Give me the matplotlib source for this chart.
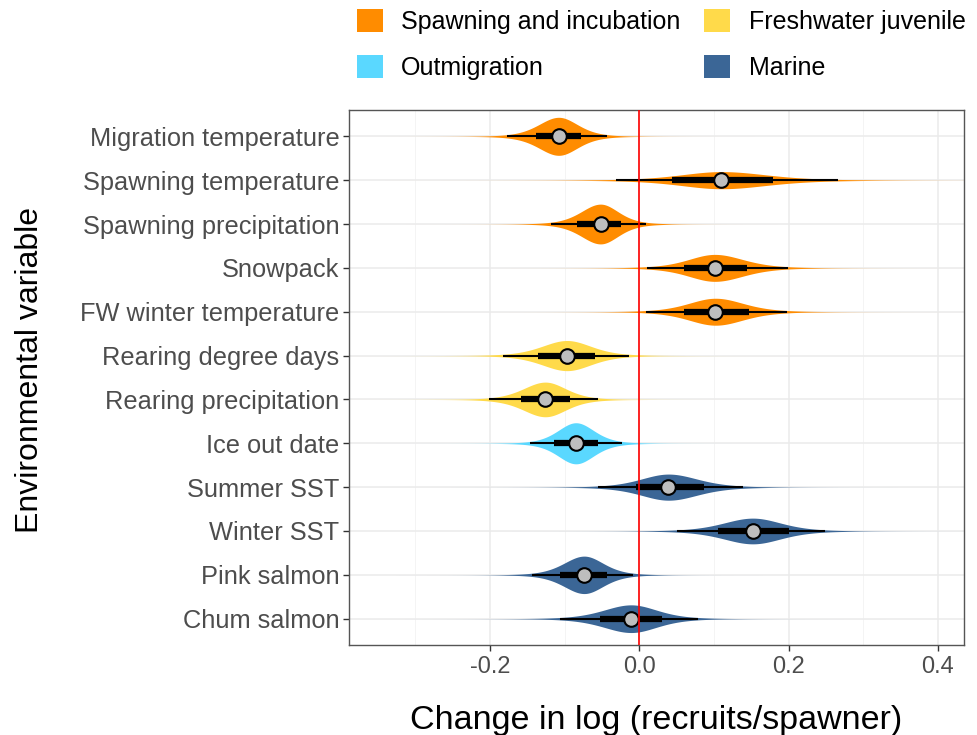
import math
import numpy as np
import matplotlib.pyplot as plt
from matplotlib.patches import Patch

plt.rcParams['font.family'] = ['Liberation Sans', 'DejaVu Sans']

# === Data ===
variables = ["Migration temperature", "Spawning temperature", "Spawning precipitation",
             "Snowpack", "FW winter temperature", "Rearing degree days",
             "Rearing precipitation", "Ice out date", "Summer SST", "Winter SST",
             "Pink salmon", "Chum salmon"]
stage = [0, 0, 0, 0, 0, 1, 1, 2, 3, 3, 3, 3]
median = [-0.108, 0.110, -0.052, 0.101, 0.102, -0.097, -0.126, -0.085, 0.039, 0.152, -0.074, -0.011]
lo66 = [-0.139, 0.044, -0.083, 0.060, 0.060, -0.136, -0.159, -0.115, -0.004, 0.105, -0.106, -0.053]
hi66 = [-0.078, 0.179, -0.024, 0.144, 0.147, -0.059, -0.093, -0.055, 0.087, 0.200, -0.043, 0.030]
lo95 = [-0.177, -0.031, -0.119, 0.010, 0.009, -0.183, -0.202, -0.147, -0.056, 0.051, -0.144, -0.106]
hi95 = [-0.043, 0.266, 0.009, 0.199, 0.198, -0.014, -0.055, -0.023, 0.139, 0.249, -0.008, 0.078]

stage_names = ["Spawning and incubation", "Freshwater juvenile", "Outmigration", "Marine"]
stage_colors = ["#FF8C00", "#FFDA4A", "#5AD8FF", "#3B6696"]

xmin, xmax = -0.389, 0.435


# split t density (df=6) built from the 95% interval on each side
def eye_density(x, m, lo, hi, df=6):
    q = 2.447
    s_lo = (m - lo) / q
    s_hi = (hi - m) / q
    s = np.where(x < m, s_lo, s_hi)
    c = math.gamma((df + 1) / 2) / (math.sqrt(df * math.pi) * math.gamma(df / 2))
    z = (x - m) / s
    return c * (1 + z ** 2 / df) ** (-(df + 1) / 2) * 2 / (s_lo + s_hi)


fig = plt.figure(figsize=(9.77, 7.35), dpi=100)
ax = fig.add_axes([349 / 977, 1 - 645 / 735, (964 - 349) / 977, (645 - 110) / 735])

n = len(variables)
ypos = np.arange(n)
xs = np.linspace(xmin, xmax, 1500)
scale = 0.031

for i in range(n):
    y = ypos[i]
    d = eye_density(xs, median[i], lo95[i], hi95[i]) * scale
    ax.fill_between(xs, y - d, y + d, color=stage_colors[stage[i]], lw=0, zorder=2)
    ax.plot([lo95[i], hi95[i]], [y, y], color="black", lw=1.5, solid_capstyle="butt", zorder=3)
    ax.plot([lo66[i], hi66[i]], [y, y], color="black", lw=4.5, solid_capstyle="butt", zorder=3)
    ax.plot(median[i], y, "o", ms=10.5, mfc="#BEBEBE", mec="black", mew=1.5, zorder=4)

ax.axvline(0, color="#FF0000", lw=1.2, zorder=5)

ax.set_xlim(xmin, xmax)
ax.set_ylim(n - 1 + 0.6, -0.6)
ax.set_yticks(ypos)
ax.set_yticklabels(variables)
ax.set_xticks([-0.2, 0.0, 0.2, 0.4])
ax.set_xticklabels(["-0.2", "0.0", "0.2", "0.4"])
ax.set_xticks([-0.3, -0.1, 0.1, 0.3], minor=True)

ax.grid(True, which="major", color="#EBEBEB", lw=1.1, zorder=0)
ax.grid(True, which="minor", axis="x", color="#F2F2F2", lw=0.6, zorder=0)
ax.set_axisbelow(True)
ax.tick_params(axis="y", which="major", labelsize=18.3, labelcolor="#4D4D4D",
               color="#333333", length=4, width=1, pad=3)
ax.tick_params(axis="x", which="major", labelsize=17, labelcolor="#4D4D4D",
               color="#333333", length=4, width=1, pad=4)
ax.tick_params(axis="x", which="minor", length=0)
for sp in ax.spines.values():
    sp.set_color("#555555")
    sp.set_linewidth(1)

fig.text(656.5 / 977, 1 - 729 / 735, "Change in log (recruits/spawner)",
         ha="center", va="baseline", fontsize=24.5)
fig.text(30 / 977, 1 - 370 / 735, "Environmental variable",
         ha="center", va="center", rotation=90, fontsize=23)

handles = [Patch(facecolor=c, edgecolor="none") for c in stage_colors]
order = [0, 2, 1, 3]
fig.legend([handles[k] for k in order], [stage_names[k] for k in order],
           ncol=2, loc="upper left", bbox_to_anchor=(357 / 977, 1 - 9 / 735),
           frameon=False, fontsize=18, borderpad=0, borderaxespad=0,
           handlelength=1.02, handleheight=1.02, handletextpad=0.75,
           columnspacing=0.95, labelspacing=0.85)

fig.savefig("out.png", dpi=100)
